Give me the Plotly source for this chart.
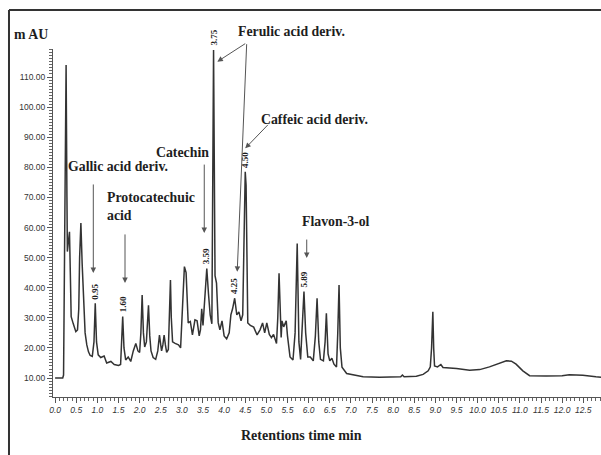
import plotly.graph_objects as go

# Chromatogram trace: retention time (min) and absorbance (mAU)
rt_min = [
    0.00, 0.18, 0.20, 0.23, 0.26, 0.28, 0.29, 0.32, 0.34, 0.36,
    0.38, 0.43, 0.49, 0.53, 0.56, 0.58, 0.61, 0.64, 0.67, 0.71,
    0.75, 0.79, 0.83, 0.88, 0.92, 0.95, 0.98, 1.02, 1.08, 1.16,
    1.22, 1.32, 1.40, 1.50, 1.55, 1.57, 1.60, 1.63, 1.67, 1.73,
    1.79, 1.85, 1.91, 1.96, 2.00, 2.03, 2.06, 2.09, 2.12, 2.16,
    2.21, 2.24, 2.27, 2.32, 2.38, 2.43, 2.47, 2.50, 2.52, 2.55,
    2.58, 2.61, 2.64, 2.68, 2.71, 2.73, 2.75, 2.78, 2.84, 2.92,
    2.97, 3.01, 3.06, 3.10, 3.13, 3.15, 3.20, 3.25, 3.31, 3.36,
    3.41, 3.44, 3.47, 3.50, 3.55, 3.59, 3.63, 3.67, 3.71, 3.75,
    3.785, 3.82, 3.86, 3.90, 3.95, 4.00, 4.06, 4.12, 4.16, 4.20,
    4.25, 4.30, 4.35, 4.40, 4.44, 4.47, 4.50, 4.52, 4.56, 4.62,
    4.70, 4.78, 4.85, 4.91, 4.96, 5.01, 5.07, 5.12, 5.17, 5.24,
    5.27, 5.30, 5.33, 5.35, 5.37, 5.41, 5.44, 5.47, 5.50, 5.56,
    5.63, 5.68, 5.73, 5.77, 5.81, 5.86, 5.89, 5.93, 5.98, 6.04,
    6.11, 6.16, 6.20, 6.24, 6.28, 6.35, 6.39, 6.42, 6.46, 6.50,
    6.55, 6.60, 6.66, 6.69, 6.72, 6.75, 6.79, 6.90, 7.05, 7.29,
    7.68, 8.00, 8.18, 8.22, 8.26, 8.55, 8.71, 8.83, 8.88, 8.91,
    8.94, 8.96, 8.98, 9.05, 9.13, 9.18, 9.50, 9.81, 10.05, 10.28,
    10.52, 10.68, 10.80, 10.91, 11.07, 11.23, 11.62, 12.00, 12.17, 12.49,
    12.80, 12.92,
]
signal_mau = [
    10.0, 10.0, 11.0, 60.0, 114.0, 70.0, 52.0, 56.0, 58.6, 45.0,
    30.4, 28.0, 25.4, 26.0, 33.0, 50.0, 61.5, 48.0, 38.0, 25.0,
    21.0, 18.7, 17.5, 17.2, 22.0, 34.8, 22.0, 17.7, 16.8, 17.3,
    15.0, 15.5, 14.5, 14.2, 14.5, 20.0, 30.4, 20.0, 16.0, 17.0,
    15.5, 19.0, 21.5, 19.0, 18.5, 25.0, 37.6, 25.0, 20.3, 22.0,
    34.2, 24.0, 19.0, 16.8, 16.2, 19.0, 24.3, 21.0, 19.0, 21.0,
    24.3, 21.0, 18.5, 19.5, 30.0, 42.6, 30.0, 22.0, 21.5, 21.0,
    20.0, 33.0, 47.0, 45.0, 36.0, 28.3, 28.8, 24.3, 29.3, 29.0,
    24.0, 26.0, 33.0, 27.5, 38.0, 46.4, 38.0, 31.0, 28.0, 119.0,
    44.0, 41.5, 28.4, 26.0, 29.0, 24.0, 23.0, 25.0, 31.0, 33.0,
    36.5, 31.0, 32.0, 29.0, 31.0, 60.0, 78.5, 74.0, 28.3, 27.5,
    26.9, 24.3, 26.0, 28.3, 25.0, 28.3, 24.5, 23.4, 24.5, 21.5,
    30.0, 44.8, 30.0, 23.5, 29.0, 27.0, 28.0, 29.0, 24.0, 17.0,
    16.0, 25.0, 54.7, 22.0, 16.2, 28.0, 38.7, 25.0, 17.0, 17.0,
    15.7, 24.0, 36.5, 22.0, 16.2, 15.7, 22.0, 31.5, 18.0, 15.7,
    16.6, 14.6, 13.7, 25.0, 40.9, 20.0, 13.6, 11.5, 11.0, 10.4,
    10.3, 10.4, 10.4, 11.0, 10.4, 10.6, 11.2, 12.4, 13.7, 20.0,
    32.0, 20.0, 14.0, 13.7, 14.5, 13.5, 13.2, 12.6, 12.8, 13.7,
    14.8, 15.7, 15.6, 14.6, 12.4, 10.8, 10.7, 10.8, 11.1, 10.9,
    10.4, 10.3,
]

# Retention times printed above the identified peaks
peak_rt = [0.95, 1.60, 3.59, 3.75, 4.25, 4.50, 5.89]
peak_text = ["0.95", "1.60", "3.59", "3.75", "4.25", "4.50", "5.89"]

# Compound names
compound_names = ["Gallic acid deriv.", "Protocatechuic<br>acid", "Catechin",
                  "Ferulic acid deriv.", "Caffeic acid deriv.", "Flavon-3-ol"]

x_range = [-0.05, 12.92]
y_range = [3.7, 119.3]

TRACE = "#333333"
INK = "#1e1e1e"
ARROW = "#555555"
SERIF = "Liberation Serif, Times New Roman, serif"
SANS = "Liberation Sans, Arial, sans-serif"

fig = go.Figure()
fig.add_trace(go.Scatter(
    x=rt_min, y=signal_mau, mode="lines",
    line=dict(color=TRACE, width=1.5),
    hoverinfo="skip", showlegend=False, cliponaxis=False,
))

annotations = []

# peak retention-time labels, set vertically above each apex
for rt, txt in zip(peak_rt, peak_text):
    apex = signal_mau[rt_min.index(rt)]
    annotations.append(dict(
        x=rt, y=apex, xref="x", yref="y", text=f"<b>{txt}</b>",
        textangle=-90, showarrow=False, xanchor="center", yanchor="bottom",
        yshift=2, font=dict(family=SERIF, size=9, color=INK),
    ))

# compound names (paper coordinates so labels above the axis top still show)
name_pos = [(0.0238, 0.6616), (0.0950, 0.5474), (0.1847, 0.7040),
            (0.3339, 1.0517), (0.3759, 0.7966), (0.4507, 0.5057)]
for name, (nx, ny) in zip(compound_names, name_pos):
    annotations.append(dict(
        x=nx, y=ny, xref="paper", yref="paper", text=f"<b>{name}</b>",
        showarrow=False, xanchor="left", yanchor="middle", align="left",
        font=dict(family=SERIF, size=13.8, color=INK),
    ))

# arrows: (tip_x, tip_y, tail_x, tail_y) in data units
arrows = [
    (0.904, 44.9, 0.904, 74.8),
    (1.654, 41.6, 1.654, 58.2),
    (3.53, 58.2, 3.53, 81.4),
    (3.84, 115.1, 4.535, 121.4),
    (4.31, 45.3, 4.535, 121.4),
    (4.50, 86.3, 5.07, 94.6),
    (5.955, 49.9, 5.955, 56.5),
]
for tx, ty, ax, ay in arrows:
    annotations.append(dict(
        x=tx, y=ty, xref="x", yref="y", ax=ax, ay=ay, axref="x", ayref="y",
        text="", showarrow=True, arrowhead=2, arrowsize=1.1, arrowwidth=1,
        arrowcolor=ARROW, standoff=0,
    ))

# axis titles
annotations.append(dict(
    x=-0.0748, y=1.043, xref="paper", yref="paper", text="<b>m AU</b>",
    showarrow=False, xanchor="left", yanchor="middle",
    font=dict(family=SERIF, size=13.8, color=INK),
))
annotations.append(dict(
    x=0.454, y=-0.112, xref="paper", yref="paper",
    text="<b>Retentions time min</b>", showarrow=False,
    xanchor="center", yanchor="middle",
    font=dict(family=SERIF, size=14, color=INK),
))

# outer frame: top and left rules
shapes = [
    dict(type="line", xref="paper", yref="paper", x0=-0.0803, x1=1.0,
         y0=1.1121, y1=1.1121, line=dict(color="#333333", width=2)),
    dict(type="line", xref="paper", yref="paper", x0=-0.0803, x1=-0.0803,
         y0=1.1121, y1=-0.1667, line=dict(color="#333333", width=2)),
]

fig.update_layout(
    width=601, height=455, autosize=False,
    margin=dict(l=53, r=0, t=49, b=58),
    paper_bgcolor="white", plot_bgcolor="white",
    annotations=annotations, shapes=shapes,
    showlegend=False,
)

fig.update_xaxes(
    range=x_range, tick0=0, dtick=0.5, tickformat=".1f",
    ticks="outside", ticklen=5, tickwidth=1, tickcolor="#555555",
    showline=True, linecolor="#555555", linewidth=1.2,
    showgrid=False, zeroline=False,
    tickfont=dict(family=SANS, size=8.5, color="#333333", style="italic"),
    minor=dict(dtick=0.1, tick0=0, ticks="outside", ticklen=3,
               tickcolor="#666666", showgrid=False),
)
fig.update_yaxes(
    range=y_range, tick0=0, dtick=10, tickformat=".2f",
    ticks="outside", ticklen=5, tickwidth=1, tickcolor="#555555",
    showline=True, linecolor="#555555", linewidth=1.2,
    showgrid=False, zeroline=False,
    tickfont=dict(family=SANS, size=8.5, color="#333333"),
    minor=dict(dtick=1, tick0=0, ticks="outside", ticklen=3,
               tickcolor="#666666", showgrid=False),
)

fig.write_html("out.html")
